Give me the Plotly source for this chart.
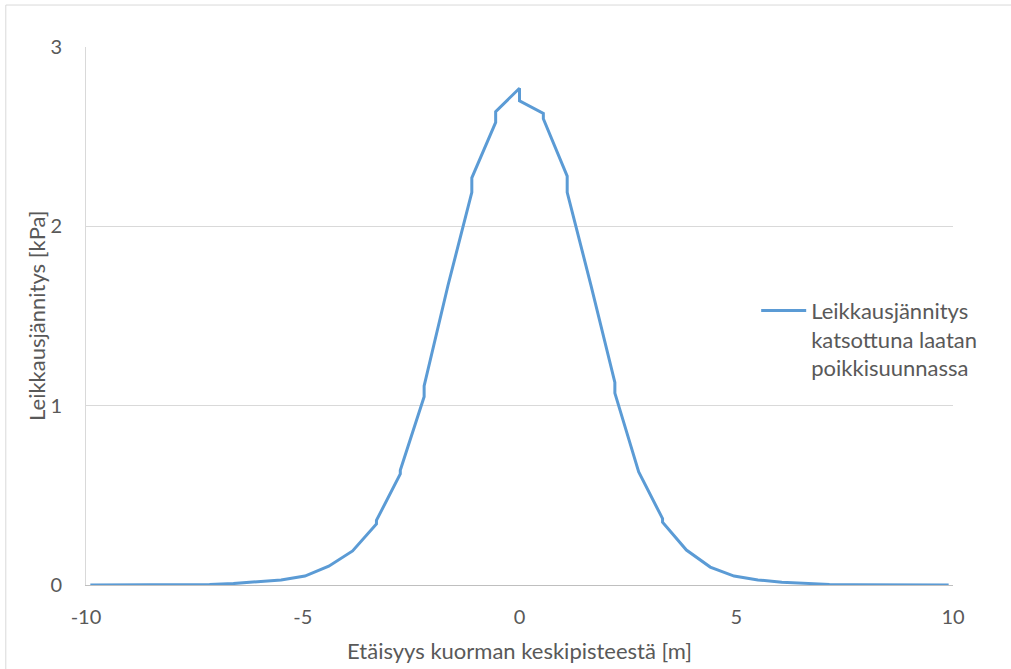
import plotly.graph_objects as go

# Shear stress along the transverse direction of the slab.
# Nodes repeat where the two adjacent elements give different values.
distance_m = [
    -9.9, -9.35, -8.8, -8.25, -7.7, -7.15, -6.6, -6.05, -5.5, -4.95,
    -4.4, -3.85, -3.3, -3.3, -2.75, -2.75, -2.2, -2.2, -1.65, -1.1, -1.1,
    -0.55, -0.55, 0.0, 0.0, 0.55, 0.55, 1.1, 1.1, 1.65, 2.2, 2.2,
    2.75, 3.3, 3.3, 3.85, 4.4, 4.95, 5.5, 6.05, 6.6, 7.15, 7.7,
    8.25, 8.8, 9.35, 9.9,
]
shear_kpa = [
    0.0, 0.0, 0.0, 0.0, 0.001, 0.003, 0.008, 0.016, 0.028, 0.05,
    0.105, 0.19, 0.34, 0.36, 0.62, 0.64, 1.05, 1.11, 1.67, 2.19, 2.27,
    2.58, 2.64, 2.77, 2.70, 2.63, 2.60, 2.28, 2.19, 1.67, 1.13, 1.07,
    0.63, 0.37, 0.35, 0.195, 0.10, 0.05, 0.028, 0.016, 0.008, 0.003, 0.001,
    0.0, 0.0, 0.0, 0.0,
]

x_ticks = [-10, -5, 0, 5, 10]
x_tick_labels = ["-10", "-5", "0", "5", "10"]
y_ticks = [0, 1, 2, 3]

series_name = "Leikkausjännitys<br>katsottuna laatan<br>poikkisuunnassa"
x_title = "Etäisyys kuorman keskipisteestä [m]"
y_title = "Leikkausjännitys [kPa]"

FONT = "Lato, 'Open Sans', sans-serif"
TEXT = "#595959"

fig = go.Figure()
fig.add_trace(go.Scatter(
    x=distance_m, y=shear_kpa, mode="lines", name=series_name,
    line=dict(color="#5B9BD5", width=3),
))

fig.update_layout(
    width=1011, height=669,
    margin=dict(l=86, r=58, t=47, b=84),
    paper_bgcolor="white", plot_bgcolor="white",
    font=dict(family=FONT, color=TEXT, size=20),
    showlegend=True,
    legend=dict(
        x=0.773, y=0.457, xanchor="left", yanchor="middle",
        font=dict(family=FONT, size=22, color=TEXT),
        bgcolor="rgba(255,255,255,0)", itemwidth=45, valign="top",
        tracegroupgap=0,
    ),
    xaxis=dict(
        range=[-10, 10], tickvals=x_ticks, ticktext=x_tick_labels,
        showgrid=False, zeroline=False, automargin=False,
        showline=True, linecolor="#BFBFBF", linewidth=1,
        ticks="", ticklabelstandoff=14,
        tickfont=dict(size=20, color=TEXT),
        title=dict(text=x_title, font=dict(size=22, color=TEXT), standoff=16),
    ),
    yaxis=dict(
        range=[0, 3], tickvals=y_ticks, showgrid=True, gridcolor="#D9D9D9",
        gridwidth=1, zeroline=False, showline=True, linecolor="#D9D9D9",
        linewidth=1, ticks="", ticklabelstandoff=19, automargin=False,
        tickfont=dict(size=20, color=TEXT),
    ),
    annotations=[dict(
        text=y_title, textangle=-90, xref="paper", yref="paper",
        x=-0.0577, y=0.5, xanchor="center", yanchor="middle",
        showarrow=False, font=dict(size=22, color=TEXT),
    )],
    shapes=[dict(
        type="rect", xref="paper", yref="paper",
        x0=-0.0925, x1=1.2, y0=-0.3, y1=1.078,
        line=dict(color="#D9D9D9", width=1), fillcolor="rgba(0,0,0,0)",
        layer="below",
    )],
)

fig.write_html("out.html")
